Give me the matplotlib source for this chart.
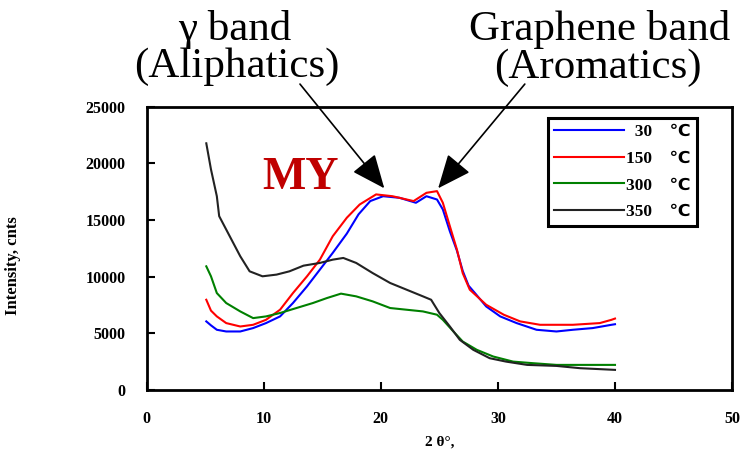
import matplotlib.pyplot as plt

plt.rcParams['font.family'] = ['Liberation Serif', 'DejaVu Sans']

# XRD profiles, 2-theta (deg) vs intensity
x_30 = [5.1, 5.5, 6.0, 6.8, 8.0, 9.1, 10.2, 11.4, 12.5, 13.7, 14.8, 15.9, 17.1, 18.1,
        19.1, 20.2, 21.6, 23.0, 23.9, 24.8, 25.3, 25.9, 26.5, 27.0, 27.5, 28.0, 29.0,
        30.2, 31.6, 33.3, 35.0, 36.4, 38.1, 39.7, 40.0]
y_30 = [6050, 5700, 5310, 5160, 5160, 5460, 5900, 6490, 7670, 9140, 10620, 12100, 13800, 15500,
        16670, 17100, 16960, 16520, 17100, 16810, 15930, 14000, 12300, 10500, 9200, 8600, 7370,
        6490, 5900, 5310, 5160, 5310, 5460, 5750, 5800]

x_150 = [5.1, 5.5, 6.0, 6.8, 8.0, 9.1, 10.2, 11.4, 12.5, 13.7, 14.8, 15.9, 17.1, 18.2, 19.6,
         21.0, 22.8, 23.9, 24.8, 25.3, 25.9, 26.5, 27.0, 27.6, 29.0, 30.5, 31.9, 33.6, 36.4, 38.7,
         39.7, 40.0]
y_150 = [7960, 7000, 6490, 5900, 5600, 5750, 6190, 7080, 8550, 10030, 11500, 13570, 15200, 16370, 17260,
         17100, 16670, 17400, 17550, 16520, 14450, 12400, 10300, 8850, 7520, 6640, 6050, 5750, 5750, 5900,
         6190, 6300]

x_300 = [5.1, 5.5, 6.0, 6.8, 8.0, 9.1, 10.2, 11.4, 12.8, 14.2, 15.4, 16.6, 17.9, 19.3, 20.8,
         22.2, 23.6, 24.8, 25.3, 26.2, 27.0, 28.2, 29.6, 31.3, 33.0, 35.0, 37.5, 40.0]
y_300 = [10910, 10030, 8550, 7670, 6930, 6340, 6490, 6790, 7230, 7670, 8110, 8500, 8260, 7820, 7230,
         7080, 6930, 6640, 6190, 5160, 4270, 3540, 2950, 2500, 2360, 2210, 2210, 2210]

x_350 = [5.1, 5.5, 6.0, 6.2, 7.1, 8.0, 8.8, 9.9, 11.1, 12.2, 13.4, 14.8, 15.9, 16.8, 17.9,
         19.3, 20.8, 22.2, 23.6, 24.3, 25.0, 25.9, 26.75, 27.9, 29.3, 30.7, 32.5, 35.0, 37.0, 40.0]
y_350 = [21770, 19470, 17100, 15340, 13570, 11800, 10470, 10030, 10180, 10470, 10970, 11210, 11500, 11650, 11210,
         10320, 9440, 8850, 8260, 7960, 6790, 5600, 4420, 3540, 2800, 2500, 2210, 2120, 1920, 1770]

labels = ['  30    \u2103', '150    \u2103', '300    \u2103', '350    \u2103']
colors = ['#0000ff', '#ff0000', '#008000', '#222222']

x_ticks = [0, 10, 20, 30, 40, 50]
y_ticks = [0, 5000, 10000, 15000, 20000, 25000]

fig = plt.figure(figsize=(7.44, 4.62), dpi=100)
ax = fig.add_axes([0.197, 0.156, 0.787, 0.613])

series = [(x_30, y_30), (x_150, y_150), (x_300, y_300), (x_350, y_350)]
for (xs, ys), lab, c in zip(series, labels, colors):
    ax.plot(xs, ys, color=c, lw=1.5, label=lab)

ax.set_xlim(0, 50)
ax.set_ylim(0, 25000)
ax.set_xticks(x_ticks)
ax.set_yticks(y_ticks)
ax.tick_params(direction='in', length=6, width=1.5, top=False, right=False,
               labelsize=11.5, pad=15)
for t in ax.get_xticklabels() + ax.get_yticklabels():
    t.set_fontweight('bold')
for s in ax.spines.values():
    s.set_linewidth(2)

ax.set_xlabel('2 \u03b8\u00b0,', fontsize=11, fontweight='bold', labelpad=6)
ax.set_ylabel('Intensity, cnts', fontsize=12, fontweight='bold')
ax.yaxis.set_label_coords(-0.215, 0.44)

leg = ax.legend(loc='upper right', bbox_to_anchor=(0.94, 0.96), fancybox=False,
                edgecolor='black', framealpha=1, handlelength=4.0, handletextpad=0.15,
                labelspacing=0.6, borderpad=0.35, borderaxespad=0,
                prop={'family': ['Liberation Serif', 'DejaVu Sans'], 'weight': 'bold', 'size': 12.5})
leg.get_frame().set_linewidth(2.2)

# sample tag and band annotations
ax.text(9.9, 17700, 'MY', color='#c00000', fontsize=33, fontweight='bold',
        ha='left', va='baseline')

arrow = dict(arrowstyle='-|>,head_length=1.4,head_width=0.6', mutation_scale=15,
             color='black', lw=1.2, shrinkA=0, shrinkB=0)
ax.annotate('', xy=(20.3, 17800), xytext=(13.1, 27000), arrowprops=arrow,
            annotation_clip=False)
ax.annotate('', xy=(24.9, 17800), xytext=(32.3, 27000), arrowprops=arrow,
            annotation_clip=False)

fig.text(0.316, 0.937, '\u03b3 band', fontsize=31, ha='center', va='center')
fig.text(0.318, 0.855, '(Aliphatics)', fontsize=31, ha='center', va='center')
fig.text(0.806, 0.937, 'Graphene band', fontsize=31, ha='center', va='center')
fig.text(0.804, 0.853, '(Aromatics)', fontsize=31, ha='center', va='center')

fig.savefig('out.png', dpi=100)
